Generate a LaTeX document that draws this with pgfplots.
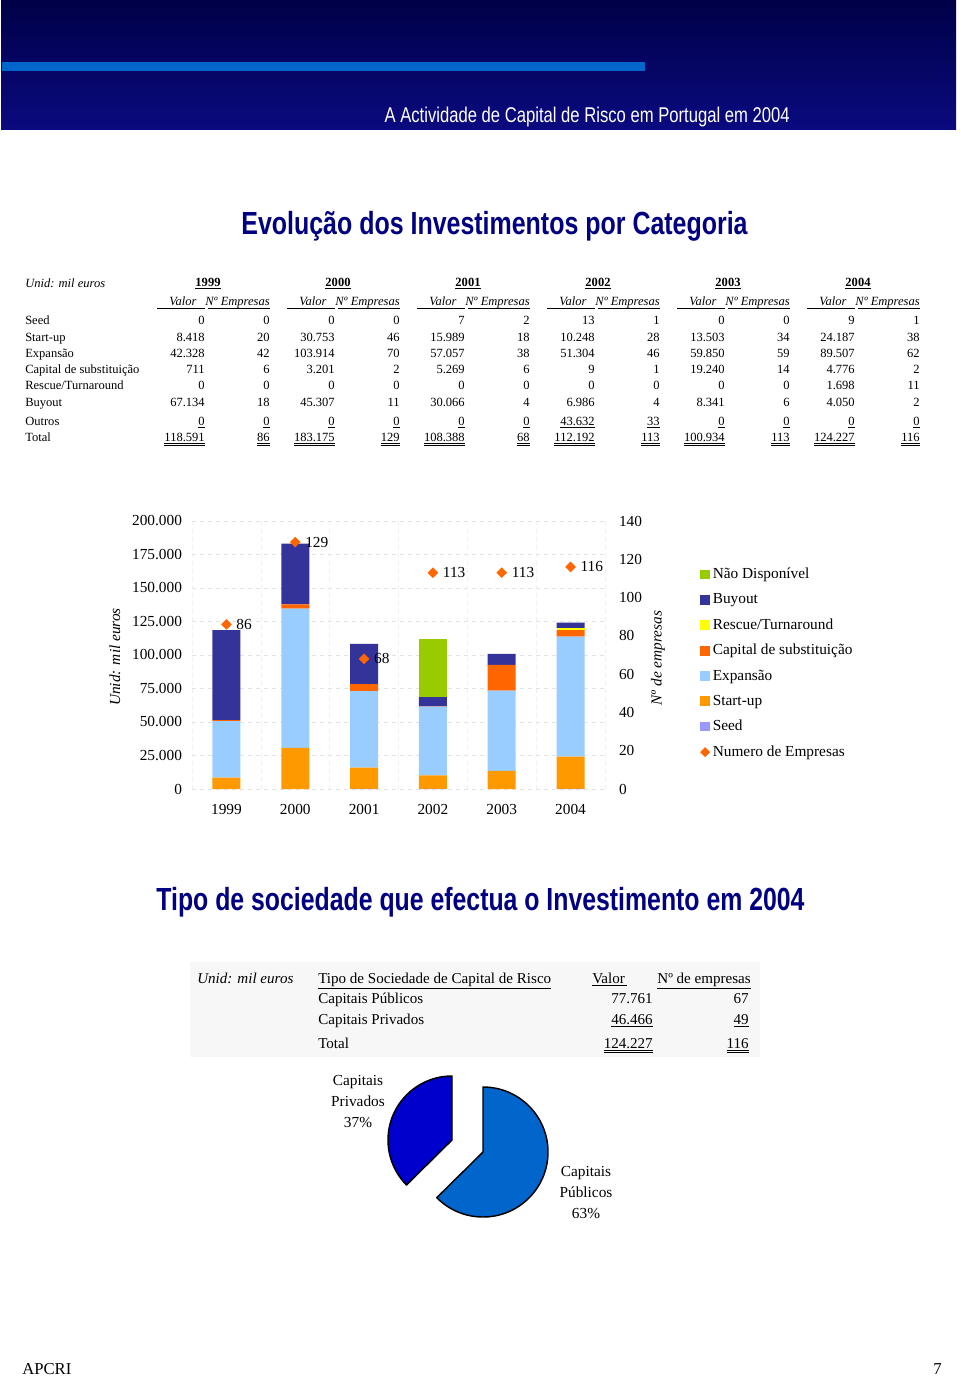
\documentclass[border=0pt]{standalone}
\usepackage{pgfplots}
\pgfplotsset{compat=1.18}
\usepackage{fontspec}
\usepackage{graphicx}
\setmainfont{Liberation Serif}
\newfontfamily\arial{Liberation Sans}
\definecolor{cSeed}{HTML}{9999FF}
\definecolor{cStart}{HTML}{FF9900}
\definecolor{cExp}{HTML}{99CCFF}
\definecolor{cCap}{HTML}{FF6600}
\definecolor{cRes}{HTML}{FFFF00}
\definecolor{cBuy}{HTML}{333399}
\definecolor{cND}{HTML}{99CC00}
\definecolor{cNum}{HTML}{FF6600}
\definecolor{navyT}{HTML}{000080}
\definecolor{barBlue}{HTML}{0066CC}
\definecolor{cPub}{HTML}{0066CC}
\definecolor{cPriv}{HTML}{0000CC}
\newcommand\tabfont{\fontsize{9.4}{11}\selectfont}
\newcommand\tabfontB{\fontsize{11.3}{13}\selectfont}
\newcommand\chartfont{\fontsize{11.5}{13.8}\selectfont}
\newcommand\dul[1]{\underline{\underline{#1}}}
\newcommand\trow[2]{\foreach \v [count=\j from 0] in {#2} {\pgfmathsetmacro\xx{205+130*int(\j/2)+65*mod(\j,2)}\node[anchor=base east, inner sep=0, font=\tabfont] at (\xx,#1) {\v};}}
\newcommand\trowU[2]{\foreach \v [count=\j from 0] in {#2} {\pgfmathsetmacro\xx{205+130*int(\j/2)+65*mod(\j,2)}\node[anchor=base east, inner sep=0, font=\tabfont] at (\xx,#1) {\underline{\v}};}}
\newcommand\trowD[2]{\foreach \v [count=\j from 0] in {#2} {\pgfmathsetmacro\xx{205+130*int(\j/2)+65*mod(\j,2)}\node[anchor=base east, inner sep=0, font=\tabfont] at (\xx,#1) {\dul{\v}};}}
\pgfplotsset{sqleg/.style={legend image code/.code={\fill[##1, draw=none] (0pt,-3.7pt) rectangle (7.5pt,3.7pt);}}}
\begin{document}
\begin{tikzpicture}[x=0.75pt,y=-0.75pt]
\path[use as bounding box] (0,0) rectangle (960,1377);
% ---------- header banner
\shade[top color={rgb,255:red,0;green,0;blue,72}, bottom color={rgb,255:red,10;green,10;blue,128}] (1,1) rectangle (956,130);
\fill[barBlue] (2,62) rectangle (645,71);
\node[anchor=base east, inner sep=0, text=white] at (790,123) {\scalebox{0.78}[1]{\arial\fontsize{16}{18}\selectfont A Actividade de Capital de Risco em Portugal em 2004}};
% ---------- title 1
\node[anchor=base, inner sep=0, text=navyT] at (494.5,234) {\scalebox{0.78}[1]{\arial\bfseries\fontsize{24}{28}\selectfont Evolução dos Investimentos por Categoria}};
% ---------- table 1
\node[anchor=base west, inner sep=0, font={\tabfont\itshape}] at (25,287) {Unid: mil euros};
\foreach \yr [count=\i from 0] in {1999,2000,2001,2002,2003,2004} {
  \node[anchor=base, inner sep=0, font={\tabfont\bfseries}] at ({208+130*\i},286) {\underline{\yr}};
  \node[anchor=base, inner sep=0, font={\tabfont\itshape}] at ({183+130*\i},305) {Valor};
  \draw[line width=0.7pt] ({157+130*\i},308.5) -- ({205+130*\i},308.5);
  \node[anchor=base east, inner sep=0, font={\tabfont\itshape}] at ({270+130*\i},305) {Nº Empresas};
  \draw[line width=0.7pt] ({208+130*\i},308.5) -- ({270+130*\i},308.5);
}
\foreach \lab/\y in {Seed/324, Start-up/341, Expansão/357, Capital de substituição/373, {Rescue/Turnaround}/389, Buyout/406, Outros/425, Total/441} {
  \node[anchor=base west, inner sep=0, font=\tabfont] at (25,\y) {\lab};
}
\trow{324}{0,0,0,0,7,2,13,1,0,0,9,1}
\trow{341}{8.418,20,30.753,46,15.989,18,10.248,28,13.503,34,24.187,38}
\trow{357}{42.328,42,103.914,70,57.057,38,51.304,46,59.850,59,89.507,62}
\trow{373}{711,6,3.201,2,5.269,6,9,1,19.240,14,4.776,2}
\trow{389}{0,0,0,0,0,0,0,0,0,0,1.698,11}
\trow{406}{67.134,18,45.307,11,30.066,4,6.986,4,8.341,6,4.050,2}
\trowU{425}{0,0,0,0,0,0,43.632,33,0,0,0,0}
\trowD{441}{118.591,86,183.175,129,108.388,68,112.192,113,100.934,113,124.227,116}
% ---------- chart
\coordinate (O) at (192,789);
\begin{axis}[at={(O)}, anchor=south west, scale only axis, width=309.75pt, height=201pt,
  xmin=-0.5, xmax=5.5, ymin=0, ymax=200000,
  ybar stacked, bar width=21pt,
  axis line style={draw=none}, major tick length=0pt, minor tick length=0pt,
  xtick={0,1,2,3,4,5}, xticklabels={1999,2000,2001,2002,2003,2004},
  minor xtick={-0.5,0.5,1.5,2.5,3.5,4.5,5.5},
  ytick={0,25000,50000,75000,100000,125000,150000,175000,200000},
  yticklabels={0,25.000,50.000,75.000,100.000,125.000,150.000,175.000,200.000},
  scaled y ticks=false,
  ymajorgrids, xminorgrids, major grid style={gray!22, dashed}, minor grid style={gray!12, dashed},
  ticklabel style={font=\chartfont},
  yticklabel style={xshift=-4pt},
  xticklabel style={yshift=-8pt},
  legend style={at={(1.22,0.845)}, anchor=north west, draw=none, fill=none, font=\chartfont, row sep=5.7pt},
  legend cell align=left,
  clip=false]
\addplot[fill=cSeed, draw=none, forget plot] coordinates {(0,0) (1,0) (2,7) (3,13) (4,0) (5,9)};
\addplot[fill=cStart, draw=none, forget plot] coordinates {(0,8418) (1,30753) (2,15989) (3,10248) (4,13503) (5,24187)};
\addplot[fill=cExp, draw=none, forget plot] coordinates {(0,42328) (1,103914) (2,57057) (3,51304) (4,59850) (5,89507)};
\addplot[fill=cCap, draw=none, forget plot] coordinates {(0,711) (1,3201) (2,5269) (3,9) (4,19240) (5,4776)};
\addplot[fill=cRes, draw=none, forget plot] coordinates {(0,0) (1,0) (2,0) (3,0) (4,0) (5,1698)};
\addplot[fill=cBuy, draw=none, forget plot] coordinates {(0,67134) (1,45307) (2,30066) (3,6986) (4,8341) (5,4050)};
\addplot[fill=cND, draw=none, forget plot] coordinates {(0,0) (1,0) (2,0) (3,43632) (4,0) (5,0)};
\addlegendimage{sqleg, fill=cND}\addlegendentry{Não Disponível}
\addlegendimage{sqleg, fill=cBuy}\addlegendentry{Buyout}
\addlegendimage{sqleg, fill=cRes}\addlegendentry{Rescue/Turnaround}
\addlegendimage{sqleg, fill=cCap}\addlegendentry{Capital de substituição}
\addlegendimage{sqleg, fill=cExp}\addlegendentry{Expansão}
\addlegendimage{sqleg, fill=cStart}\addlegendentry{Start-up}
\addlegendimage{sqleg, fill=cSeed}\addlegendentry{Seed}
\addlegendimage{legend image code/.code={\begin{scope}\pgftransformshift{\pgfpoint{3.75pt}{0pt}}\pgftransformrotate{45}\pgfsetfillcolor{cNum}\pgfsetstrokecolor{cNum}\pgfsetplotmarksize{2.4pt}\pgfuseplotmark{square*}\end{scope}}}\addlegendentry{Numero de Empresas}
\end{axis}
\begin{axis}[at={(O)}, anchor=south west, scale only axis, width=309.75pt, height=201pt,
  xmin=-0.5, xmax=5.5, ymin=0, ymax=140,
  axis y line*=right, hide x axis, axis line style={draw=none}, major tick length=0pt,
  ytick={0,20,40,60,80,100,120,140},
  yticklabels={0,20,40,60,80,100,120,140},
  ticklabel style={font=\chartfont},
  yticklabel style={xshift=7pt},
  point meta=explicit symbolic,
  nodes near coords={\pgfplotspointmeta},
  every node near coord/.append style={anchor=west, font=\chartfont, text=black, xshift=4pt},
  clip=false]
\addplot[only marks, mark=square*, mark size=2.6pt, mark options={rotate=45, fill=cNum, draw=cNum}] coordinates {(0,86) [86] (1,129) [129] (2,68) [68] (3,113) [113] (4,113) [113] (5,116) [116]};
\end{axis}
\node[rotate=90, inner sep=0, font={\chartfont\itshape}] at (115,657) {Unid: mil euros};
\node[rotate=90, inner sep=0, font={\chartfont\itshape}] at (658,658) {Nº de empresas};
% ---------- title 2
\node[anchor=base, inner sep=0, text=navyT] at (480.5,910) {\scalebox{0.776}[1]{\arial\bfseries\fontsize{24}{28}\selectfont Tipo de sociedade que efectua o Investimento em 2004}};
% ---------- table 2
\fill[gray!6] (190,962) rectangle (760,1057);
\node[anchor=base west, inner sep=0, font={\tabfontB\itshape}] at (197,983) {Unid: mil euros};
\node[anchor=base west, inner sep=0, font=\tabfontB] at (318,983) {\underline{Tipo de Sociedade de Capital de Risco}};
\node[anchor=base west, inner sep=0, font=\tabfontB] at (592,983) {\underline{Valor\,}};
\node[anchor=base east, inner sep=0, font=\tabfontB] at (751,983) {\underline{Nº de empresas}};
\node[anchor=base west, inner sep=0, font=\tabfontB] at (318,1003) {Capitais Públicos};
\node[anchor=base west, inner sep=0, font=\tabfontB] at (318,1024) {Capitais Privados};
\node[anchor=base west, inner sep=0, font=\tabfontB] at (318,1048) {Total};
\node[anchor=base east, inner sep=0, font=\tabfontB] at (653,1003) {77.761};
\node[anchor=base east, inner sep=0, font=\tabfontB] at (653,1024) {\underline{46.466}};
\node[anchor=base east, inner sep=0, font=\tabfontB] at (653,1048) {\dul{124.227}};
\node[anchor=base east, inner sep=0, font=\tabfontB] at (749,1003) {67};
\node[anchor=base east, inner sep=0, font=\tabfontB] at (749,1024) {\underline{49}};
\node[anchor=base east, inner sep=0, font=\tabfontB] at (749,1048) {\dul{116}};
% ---------- pie
\pgfmathsetmacro\angPub{77.761/(77.761+46.466)*360}
\begin{scope}[shift={(483,1152)}, yscale=-1]
  \filldraw[fill=cPub, draw=black, line width=1.1pt, line join=round] (0,0) -- (90:65) arc[start angle=90, end angle={90-\angPub}, radius=65] -- cycle;
  \filldraw[fill=cPriv, draw=black, line width=1.1pt, line join=round] (-31,12) -- ++(90:64) arc[start angle=90, end angle={450-\angPub}, radius=64] -- cycle;
\end{scope}
\node[align=center, inner sep=0, font={\fontsize{11.5}{15.75}\selectfont}] at (358,1102) {Capitais\\Privados\\37\%};
\node[align=center, inner sep=0, font={\fontsize{11.5}{15.75}\selectfont}] at (586,1193) {Capitais\\Públicos\\63\%};
% ---------- footer
\node[anchor=base west, inner sep=0, font={\fontsize{12.5}{14}\selectfont}] at (22,1374) {APCRI};
\node[anchor=base east, inner sep=0, font={\fontsize{12.5}{14}\selectfont}] at (942,1374) {7};
\end{tikzpicture}
\end{document}
